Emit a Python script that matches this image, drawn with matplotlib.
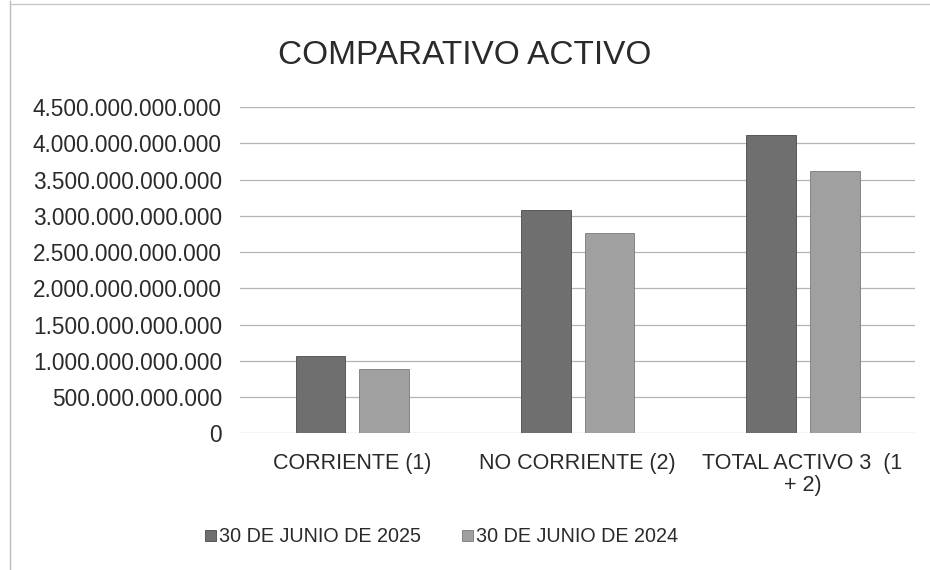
import matplotlib
matplotlib.use("Agg")
import matplotlib.pyplot as plt
import numpy as np
from matplotlib.ticker import FuncFormatter
from matplotlib.patches import Rectangle

plt.rcParams['font.family'] = ['Liberation Sans', 'DejaVu Sans']

categories = ["CORRIENTE (1)", "NO CORRIENTE (2)", "TOTAL ACTIVO 3  (1\n+ 2)"]
series_names = ["30 DE JUNIO DE 2025", "30 DE JUNIO DE 2024"]
values_2025 = [1.06e12, 3.08e12, 4.12e12]
values_2024 = [0.88e12, 2.77e12, 3.62e12]
yticks = np.arange(0, 4.5e12 + 1, 0.5e12)

colors = ["#6f6f6f", "#a0a0a0"]

fig = plt.figure(figsize=(9.3, 5.7), dpi=100)
ax = fig.add_axes([0.258, 0.240, 0.726, 0.572])

x = np.arange(len(categories))
w = 0.222
off = 0.142
ax.bar(x - off, values_2025, w, color=colors[0], edgecolor="#4a4a4a", linewidth=0.6,
       label=series_names[0], zorder=3)
ax.bar(x + off, values_2024, w, color=colors[1], edgecolor="#7a7a7a", linewidth=0.6,
       label=series_names[1], zorder=3)

ax.set_xlim(-0.5, 2.5)
ax.set_ylim(0, 4.5e12)
ax.set_yticks(yticks)
ax.yaxis.set_major_formatter(FuncFormatter(lambda v, p: f"{int(round(v)):,}".replace(",", ".")))
ax.set_xticks(x)
ax.set_xticklabels(categories, fontsize=15.5, color="#2a2a2a", linespacing=1.1)
ax.tick_params(axis='y', length=0, pad=13, labelsize=16.3, labelcolor="#2a2a2a")
ax.tick_params(axis='x', length=0, pad=14)
ax.grid(axis='y', color="#b5b5b5", linewidth=0.9, zorder=0)
for s in ax.spines.values():
    s.set_visible(False)

fig.text(0.5, 1 - 55 / 570, "COMPARATIVO ACTIVO", ha='center', va='center',
         fontsize=24, color="#2a2a2a")

leg = fig.legend(loc='center', bbox_to_anchor=(0.475, 1 - 537 / 570), ncol=2, frameon=False,
                 fontsize=14.2, handlelength=0.55, handleheight=0.55, handletextpad=0.15,
                 columnspacing=2.1, labelcolor="#2a2a2a")

fig.patches.append(Rectangle((10 / 930, 0), 0, 1, transform=fig.transFigure,
                             fill=False, edgecolor="#bdbdbd", linewidth=1.0))
fig.lines.append(plt.Line2D([10 / 930, 1], [1 - 4 / 570, 1 - 4 / 570], transform=fig.transFigure,
                            color="#c8c8c8", linewidth=1.0))

fig.savefig("out.png", dpi=100, facecolor="white")
